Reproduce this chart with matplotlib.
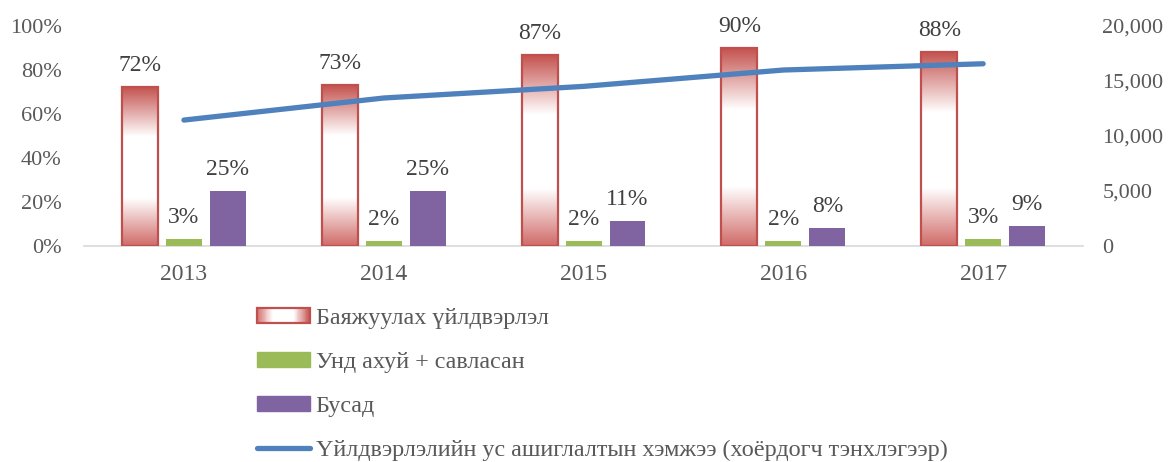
import numpy as np
import matplotlib
matplotlib.use("Agg")
import matplotlib.pyplot as plt
from matplotlib.colors import LinearSegmentedColormap
from matplotlib.patches import Rectangle
from matplotlib.lines import Line2D
from matplotlib.legend_handler import HandlerBase
from matplotlib.ticker import FuncFormatter, PercentFormatter

plt.rcParams['font.family'] = ['Liberation Serif', 'DejaVu Serif']

# ---- data ----
years = ["2013", "2014", "2015", "2016", "2017"]
mining = [72, 73, 87, 90, 88]            # Баяжуулах үйлдвэрлэл, %
beverages = [3, 2, 2, 2, 3]              # Унд ахуй + савласан, %
other = [25, 25, 11, 8, 9]               # Бусад, %
water_use = [11430, 13440, 14500, 15990, 16560]  # secondary axis

series_labels = ["Баяжуулах үйлдвэрлэл", "Унд ахуй + савласан", "Бусад",
                 "Үйлдвэрлэлийн ус ашиглалтын хэмжээ (хоёрдогч тэнхлэгээр)"]

RED = "#C0504D"
GREEN = "#9BBB59"
PURPLE = "#8064A2"
BLUE = "#4F81BD"
TEXT = "#404040"
TICK = "#595959"
FS = 17          # data labels, category labels
FS_Y = 16        # value-axis labels
FS_LEG = 17.4    # legend

# red -> white -> red reflected gradient
grad_cmap = LinearSegmentedColormap.from_list(
    "reflect",
    [(0.0, "#D06B68"), (0.30, "#FFFFFF"), (0.69, "#FFFFFF"), (1.0, "#C4534F")])

fig = plt.figure(figsize=(11.72, 4.62), dpi=100)
ax = fig.add_axes([0.0717, 0.4686, 0.8524, 0.4751])
ax2 = ax.twinx()

x = np.arange(len(years))
w = 0.18
off = 0.22

# gradient-filled bars
bars = ax.bar(x - off, np.array(mining) / 100, w, facecolor="none",
              edgecolor=RED, linewidth=1.6, zorder=3)
grad = grad_cmap(np.linspace(0, 1, 256))[:, None, :]
for b in bars:
    x0, y0 = b.get_x(), b.get_y()
    bw, bh = b.get_width(), b.get_height()
    im = ax.imshow(grad, extent=(x0, x0 + bw, y0, y0 + bh), origin="lower",
                   aspect="auto", zorder=2, interpolation="bilinear")
    im.set_clip_path(b)

ax.bar(x, np.array(beverages) / 100, w, color=GREEN, zorder=3)
ax.bar(x + off, np.array(other) / 100, w, color=PURPLE, zorder=3)

# value labels
for xs, vals in ((x - off, mining), (x, beverages), (x + off, other)):
    for xi, v in zip(xs, vals):
        ax.annotate(f"{v}%", (xi, v / 100), xytext=(0, 11.5),
                    textcoords="offset points", ha="center", va="baseline",
                    fontsize=FS, color=TEXT)

ax2.plot(x, water_use, color=BLUE, linewidth=3.8, solid_capstyle="round", zorder=5)

ax.set_xlim(-0.5, len(years) - 0.5)
ax.set_ylim(0, 1)
ax.set_yticks(np.arange(0, 1.01, 0.2))
ax.yaxis.set_major_formatter(PercentFormatter(1.0, decimals=0))
ax2.set_ylim(0, 20000)
ax2.set_yticks(np.arange(0, 20001, 5000))
ax2.yaxis.set_major_formatter(FuncFormatter(lambda v, p: f"{int(v):,}"))

ax.set_xticks(x)
ax.set_xticklabels(years)

for a in (ax, ax2):
    for s in ("top", "left", "right", "bottom"):
        a.spines[s].set_visible(False)
ax.spines["bottom"].set_visible(True)
ax.spines["bottom"].set_color("#D9D9D9")
ax.spines["bottom"].set_linewidth(1.2)

ax.tick_params(axis="x", length=0, pad=13, labelsize=FS, labelcolor=TICK)
ax.tick_params(axis="y", length=0, pad=16, labelsize=FS_Y, labelcolor=TICK)
ax2.tick_params(axis="y", length=0, pad=14, labelsize=FS_Y, labelcolor=TICK)


class GradientHandler(HandlerBase):
    def create_artists(self, legend, orig_handle, xdescent, ydescent,
                       width, height, fontsize, trans):
        n = 60
        arts = []
        for i in range(n):
            f = (i + 0.5) / n
            arts.append(Rectangle((-xdescent + i * width / n, -ydescent),
                                  width / n * 1.08, height,
                                  facecolor=grad_cmap(f), edgecolor="none",
                                  transform=trans))
        arts.append(Rectangle((-xdescent, -ydescent), width, height,
                              facecolor="none", edgecolor=RED, lw=1.6,
                              transform=trans))
        return arts


class GradientKey:
    pass


handles = [GradientKey(),
           Rectangle((0, 0), 1, 1, color=GREEN),
           Rectangle((0, 0), 1, 1, color=PURPLE),
           Line2D([], [], color=BLUE, lw=3.8, solid_capstyle="round")]

fig.legend(handles, series_labels, handler_map={GradientKey: GradientHandler()},
           loc="upper left", bbox_to_anchor=(0.219, 0.333), frameon=False,
           fontsize=FS_LEG, labelcolor=TICK, handlelength=2.2, handleheight=0.54,
           handletextpad=0.24, labelspacing=0.95, borderpad=0, borderaxespad=0)

fig.savefig("out.png", dpi=100)
